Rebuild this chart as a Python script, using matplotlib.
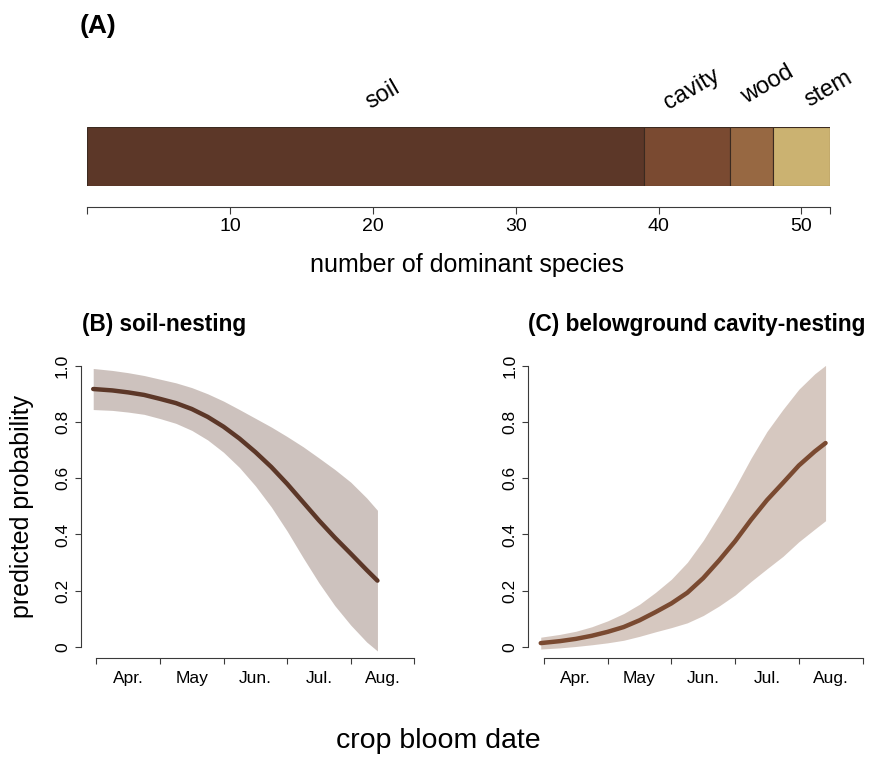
import numpy as np
import matplotlib
matplotlib.use("Agg")
import matplotlib.pyplot as plt

plt.rcParams["font.family"] = ["Liberation Sans", "DejaVu Sans"]

# ---- (A) nesting guilds of the dominant species ----
guilds = ["soil", "cavity", "wood", "stem"]
guild_counts = [39, 6, 3, 4]
guild_colors = ["#5C3728", "#7A4A31", "#976842", "#CBB271"]
count_ticks = [0, 10, 20, 30, 40, 50, 52]
count_tick_labels = ["", "10", "20", "30", "40", "50", ""]

# ---- (B)/(C) predicted probability vs crop bloom date (months from 1 April) ----
bloom = [-0.05, 0.25, 0.5, 0.75, 1.0, 1.25, 1.5, 1.75, 2.0, 2.25,
         2.5, 2.75, 3.0, 3.25, 3.5, 3.75, 4.0, 4.25, 4.42]

soil_fit = [0.917, 0.912, 0.905, 0.896, 0.882, 0.867, 0.846, 0.818, 0.783, 0.741,
            0.693, 0.640, 0.580, 0.515, 0.450, 0.389, 0.332, 0.274, 0.236]
soil_upper = [0.990, 0.983, 0.975, 0.965, 0.952, 0.939, 0.922, 0.900, 0.874, 0.844,
              0.813, 0.782, 0.748, 0.712, 0.672, 0.631, 0.586, 0.530, 0.486]
soil_lower = [0.844, 0.841, 0.835, 0.827, 0.812, 0.795, 0.770, 0.736, 0.692, 0.638,
              0.573, 0.498, 0.412, 0.318, 0.228, 0.147, 0.078, 0.018, -0.014]

cavity_fit = [0.014, 0.021, 0.029, 0.040, 0.054, 0.071, 0.095, 0.124, 0.155, 0.193,
              0.245, 0.308, 0.376, 0.452, 0.522, 0.583, 0.645, 0.695, 0.725]
cavity_upper = [0.035, 0.045, 0.056, 0.072, 0.093, 0.119, 0.152, 0.194, 0.241, 0.301,
                0.379, 0.470, 0.567, 0.671, 0.766, 0.844, 0.916, 0.971, 1.001]
cavity_lower = [-0.007, -0.003, 0.002, 0.008, 0.015, 0.024, 0.038, 0.054, 0.069, 0.086,
                0.112, 0.146, 0.185, 0.233, 0.278, 0.322, 0.374, 0.419, 0.449]

months = ["Apr.", "May", "Jun.", "Jul.", "Aug."]
prob_ticks = [0, 0.2, 0.4, 0.6, 0.8, 1.0]
prob_tick_labels = ["0", "0.2", "0.4", "0.6", "0.8", "1.0"]

W, H = 875, 757
fig = plt.figure(figsize=(W / 100, H / 100), dpi=100)


def box(left, top, right, bottom):
    return [left / W, 1 - bottom / H, (right - left) / W, (bottom - top) / H]


def ftext(x, y, s, **kw):
    fig.text(x / W, 1 - y / H, s, **kw)


axis_col = "#3a3a3a"

# ---------------- panel A ----------------
axA = fig.add_axes(box(87, 127, 830, 186))
lefts = np.concatenate([[0], np.cumsum(guild_counts)[:-1]])
axA.barh([0.5] * len(guild_counts), guild_counts, left=lefts, height=1.0,
         color=guild_colors, edgecolor="#3b2a20", linewidth=0.8)
axA.set_xlim(0, sum(guild_counts))
axA.set_ylim(0, 1)
for s in ["left", "right", "top"]:
    axA.spines[s].set_visible(False)
axA.spines["bottom"].set_position(("outward", 21 * 0.72))
axA.spines["bottom"].set_color(axis_col)
axA.spines["bottom"].set_linewidth(0.8)
axA.set_yticks([])
axA.set_xticks(count_ticks)
axA.set_xticklabels(count_tick_labels)
axA.tick_params(axis="x", length=5, width=0.8, color=axis_col, labelsize=14, pad=3)

# guild names above the bar, slanted
label_x = [20.7, 42.3, 47.6, 51.9]
label_y = [1.55, 1.64, 1.72, 1.64]
for name, lx, ly in zip(guilds, label_x, label_y):
    axA.text(lx, ly, name, rotation=30, ha="center", va="center",
             fontsize=17, clip_on=False)

ftext(80, 26, "(A)", fontsize=19, fontweight="bold", ha="left", va="center")
ftext(467, 265, "number of dominant species", fontsize=18, ha="center", va="center")


# ---------------- panels B and C ----------------
def prob_panel(rect, fit, lower, upper, color, title, title_x):
    ax = fig.add_axes(box(*rect))
    ax.fill_between(bloom, lower, upper, color=color, alpha=0.3, linewidth=0)
    ax.plot(bloom, fit, color=color, linewidth=3.2, solid_capstyle="round",
            solid_joinstyle="round")
    ax.set_xlim(-0.25, 5.05)
    ax.set_ylim(-0.04, 1.04)
    for s in ["right", "top"]:
        ax.spines[s].set_visible(False)
    for s in ["left", "bottom"]:
        ax.spines[s].set_color(axis_col)
        ax.spines[s].set_linewidth(0.8)
    ax.spines["left"].set_bounds(0, 1)
    ax.spines["bottom"].set_bounds(0, 5)
    ax.set_yticks(prob_ticks)
    ax.set_yticklabels(prob_tick_labels, rotation=90, va="center")
    ax.tick_params(axis="y", length=4.5, width=0.8, color=axis_col, labelsize=12.5, pad=3)
    ax.set_xticks(range(6))
    ax.set_xticklabels([])
    ax.set_xticks([i + 0.5 for i in range(5)], minor=True)
    ax.set_xticklabels(months, minor=True)
    ax.tick_params(axis="x", which="major", length=4.5, width=0.8, color=axis_col)
    ax.tick_params(axis="x", which="minor", length=0, labelsize=12.5, pad=9)
    ftext(title_x, 325, title, fontsize=16.3, fontweight="bold", ha="left", va="center")
    return ax


prob_panel((80.5, 354.4, 417.5, 658.3), soil_fit, soil_lower, soil_upper,
           guild_colors[0], "(B) soil-nesting", 82)
prob_panel((528, 354.4, 865.7, 658.3), cavity_fit, cavity_lower, cavity_upper,
           guild_colors[1], "(C) belowground cavity-nesting", 528)

ftext(22, 507, "predicted probability", fontsize=18, rotation=90, ha="center", va="center")
ftext(438, 741, "crop bloom date", fontsize=20.5, ha="center", va="center")

fig.savefig("out.png", dpi=100, facecolor="white")
